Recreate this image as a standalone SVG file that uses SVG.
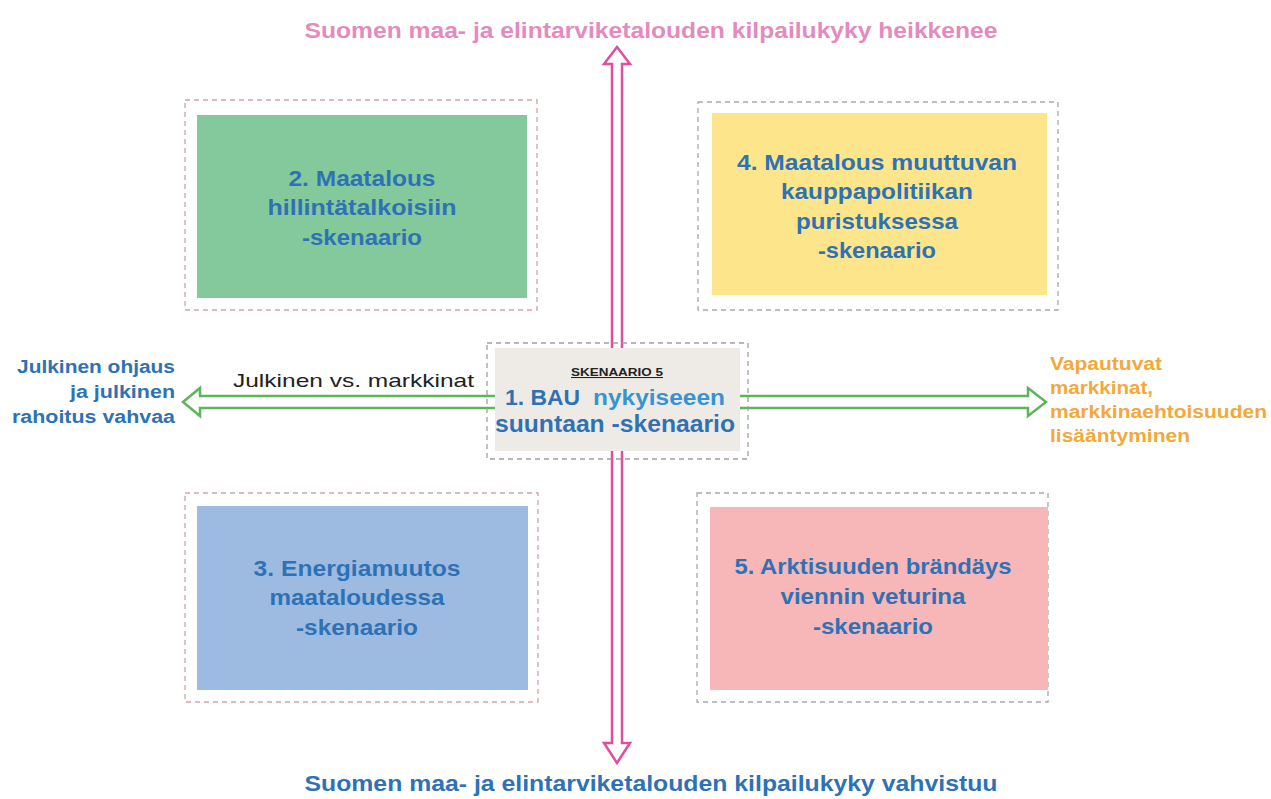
<svg xmlns="http://www.w3.org/2000/svg" width="1271" height="799" viewBox="0 0 1271 799">
<defs>
<style>
.bg{fill:#ffffff}
.frame{fill:none;stroke-width:1.3;stroke-dasharray:5 4}
.fl{stroke:#d2a3a6}
.fr{stroke:#a7a9b3}
.fc{stroke:#a0a0a0}
.lbl{font-family:"Liberation Sans",Arial,sans-serif;font-weight:bold;font-size:22px;fill:#2e72b5;text-anchor:middle}
.side{font-family:"Liberation Sans",Arial,sans-serif;font-weight:bold;font-size:18px}
.title{font-family:"Liberation Sans",Arial,sans-serif;font-weight:bold;font-size:22px;text-anchor:middle}
.arrow{fill:#ffffff;stroke-width:2.5;stroke-linejoin:miter}
</style>
</defs>
<rect class="bg" x="0" y="0" width="1271" height="799"/>

<g id="connectors">
<polygon class="arrow" stroke="#e24d9d" points="617,47 630,64 622,64 622,743 630,743 617,763 604,743 612,743 612,64 604,64"/>
<polygon class="arrow" stroke="#5bb65a" points="183,402 200,388 200,396 1028,396 1028,388 1046,402 1028,416 1028,408 200,408 200,416"/>
</g>

<g id="title-top">
<text class="title" x="651" y="38" fill="#e38bbd" textLength="693" lengthAdjust="spacingAndGlyphs">Suomen maa- ja elintarviketalouden kilpailukyky heikkenee</text>
</g>
<g id="title-bottom">
<text class="title" x="651" y="791" fill="#2e72b5" textLength="693" lengthAdjust="spacingAndGlyphs">Suomen maa- ja elintarviketalouden kilpailukyky vahvistuu</text>
</g>

<g id="node-2">
<rect class="frame fl" x="185" y="100" width="352" height="210"/>
<rect x="197" y="115" width="330" height="183" fill="#84c99c"/>
<text class="lbl" x="362" y="186" textLength="147" lengthAdjust="spacingAndGlyphs">2. Maatalous</text>
<text class="lbl" x="362" y="215" textLength="189" lengthAdjust="spacingAndGlyphs">hillintätalkoisiin</text>
<text class="lbl" x="362" y="245" textLength="120" lengthAdjust="spacingAndGlyphs">-skenaario</text>
</g>

<g id="node-4">
<rect class="frame fr" x="698" y="102" width="360" height="208"/>
<rect x="712" y="113" width="335" height="182" fill="#fde58b"/>
<text class="lbl" x="877" y="170" textLength="280" lengthAdjust="spacingAndGlyphs">4. Maatalous muuttuvan</text>
<text class="lbl" x="877" y="199" textLength="192" lengthAdjust="spacingAndGlyphs">kauppapolitiikan</text>
<text class="lbl" x="877" y="229" textLength="162" lengthAdjust="spacingAndGlyphs">puristuksessa</text>
<text class="lbl" x="877" y="258" textLength="118" lengthAdjust="spacingAndGlyphs">-skenaario</text>
</g>

<g id="node-3">
<rect class="frame fl" x="185" y="493" width="353" height="209"/>
<rect x="197" y="506" width="331" height="184" fill="#9dbbe1"/>
<text class="lbl" x="357" y="576" textLength="207" lengthAdjust="spacingAndGlyphs">3. Energiamuutos</text>
<text class="lbl" x="357" y="605" textLength="175" lengthAdjust="spacingAndGlyphs">maataloudessa</text>
<text class="lbl" x="357" y="635" textLength="122" lengthAdjust="spacingAndGlyphs">-skenaario</text>
</g>

<g id="node-5">
<rect class="frame fr" x="697" y="493" width="351" height="209"/>
<rect x="710" y="507" width="338" height="183" fill="#f7b6b7"/>
<text class="lbl" x="873" y="574" textLength="277" lengthAdjust="spacingAndGlyphs">5. Arktisuuden brändäys</text>
<text class="lbl" x="873" y="604" textLength="185" lengthAdjust="spacingAndGlyphs">viennin veturina</text>
<text class="lbl" x="873" y="634" textLength="120" lengthAdjust="spacingAndGlyphs">-skenaario</text>
</g>

<g id="node-1">
<rect class="frame fc" x="487" y="343" width="261" height="116"/>
<rect x="495" y="348" width="245" height="103" fill="#eeebe6"/>
<text x="617" y="376" font-family="'Liberation Sans',Arial,sans-serif" font-weight="bold" font-size="10.5" fill="#222222" text-anchor="middle" text-decoration="underline" textLength="92" lengthAdjust="spacingAndGlyphs">SKENAARIO 5</text>
<text class="lbl" x="505" y="405" font-size="23" text-anchor="start" style="text-anchor:start" textLength="75" lengthAdjust="spacingAndGlyphs">1. BAU</text>
<text class="lbl" x="593" y="405" font-size="23" fill="#3793d2" style="text-anchor:start;fill:#3793d2" textLength="132" lengthAdjust="spacingAndGlyphs">nykyiseeen</text>
<text class="lbl" x="615" y="432" style="font-size:23px" textLength="240" lengthAdjust="spacingAndGlyphs">suuntaan -skenaario</text>
</g>

<g id="axis-label">
<text x="233" y="387" font-family="'Liberation Sans',Arial,sans-serif" font-size="19" fill="#222222" textLength="241" lengthAdjust="spacingAndGlyphs">Julkinen vs. markkinat</text>
</g>

<g id="label-left">
<text class="side" x="175" y="373" fill="#2e72b5" text-anchor="end" textLength="158" lengthAdjust="spacingAndGlyphs">Julkinen ohjaus</text>
<text class="side" x="175" y="398" fill="#2e72b5" text-anchor="end" textLength="105" lengthAdjust="spacingAndGlyphs">ja julkinen</text>
<text class="side" x="175" y="423" fill="#2e72b5" text-anchor="end" textLength="163" lengthAdjust="spacingAndGlyphs">rahoitus vahvaa</text>
</g>

<g id="label-right">
<text class="side" x="1050" y="370" fill="#f3a83a" textLength="112" lengthAdjust="spacingAndGlyphs">Vapautuvat</text>
<text class="side" x="1050" y="394" fill="#f3a83a" textLength="103" lengthAdjust="spacingAndGlyphs">markkinat,</text>
<text class="side" x="1050" y="418" fill="#f3a83a" textLength="217" lengthAdjust="spacingAndGlyphs">markkinaehtoisuuden</text>
<text class="side" x="1050" y="442" fill="#f3a83a" textLength="140" lengthAdjust="spacingAndGlyphs">lisääntyminen</text>
</g>
</svg>
